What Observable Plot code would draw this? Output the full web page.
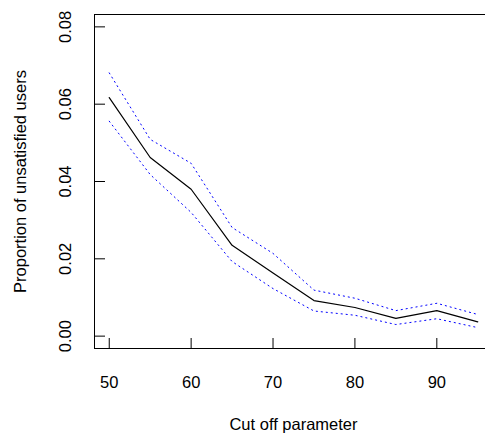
<!DOCTYPE html>
<html>
<head>
<meta charset="utf-8">
<script src="https://cdn.jsdelivr.net/npm/d3@7"></script>
<script src="https://cdn.jsdelivr.net/npm/@observablehq/plot@0.6"></script>
<style>
  html, body { margin: 0; padding: 0; background: white; overflow: hidden; }
  #chart svg { overflow: hidden; }
</style>
</head>
<body>
<div id="chart"></div>
<script>
const cutoff = [50, 55, 60, 65, 70, 75, 80, 85, 90, 95];
const proportion = [0.0617, 0.0462, 0.0380, 0.0235, 0.0163, 0.0092, 0.0074, 0.0046, 0.0066, 0.0037];
const upper = [0.0681, 0.0509, 0.0447, 0.0281, 0.0214, 0.0119, 0.0098, 0.0066, 0.0085, 0.0056];
const lower = [0.0556, 0.0418, 0.0320, 0.0193, 0.0123, 0.0065, 0.0054, 0.0030, 0.0045, 0.0022];
const xTicks = [50, 60, 70, 80, 90];
const yTicks = [0.00, 0.02, 0.04, 0.06, 0.08];
const xLabel = "Cut off parameter";
const yLabel = "Proportion of unsatisfied users";

const xDomain = [48.2, 96.8];
const yDomain = [-0.0032, 0.0832];

const rows = cutoff.map((c, i) => ({c, p: proportion[i], u: upper[i], l: lower[i]}));
const fmt = d3.format(".2f");
const font = "'Liberation Sans', Arial, Helvetica, sans-serif";
const fs = 16.5;

const chart = Plot.plot({
  width: 485,
  height: 435,
  marginLeft: 94,
  marginRight: -7,
  marginTop: 14,
  marginBottom: 87,
  style: {fontFamily: font, fontSize: fs + "px", background: "white", color: "black"},
  x: {domain: xDomain, axis: null},
  y: {domain: yDomain, axis: null},
  marks: [
    Plot.ruleY([yDomain[1]], {stroke: "black", strokeWidth: 1}),
    Plot.ruleY([yDomain[0]], {stroke: "black", strokeWidth: 1}),
    Plot.ruleX([xDomain[0]], {stroke: "black", strokeWidth: 1}),
    Plot.axisX({ticks: xTicks, tickSize: -10, tickPadding: 37.4, tickFormat: d => String(d), label: null, fontSize: fs}),
    Plot.axisY({ticks: yTicks, tickSize: -11, tickFormat: () => "", label: null}),
    Plot.text(yTicks, {y: d => d, text: d => fmt(d), frameAnchor: "left", dx: -23.3, rotate: -90,
      lineAnchor: "bottom", textAnchor: "middle", fontSize: fs}),
    Plot.text([xLabel], {frameAnchor: "bottom", dy: 81, lineAnchor: "bottom", textAnchor: "middle", fontSize: fs}),
    Plot.text([yLabel], {frameAnchor: "left", dx: -69, rotate: -90, lineAnchor: "bottom", textAnchor: "middle", fontSize: fs}),
    Plot.line(rows, {x: "c", y: "u", stroke: "blue", strokeWidth: 1, strokeDasharray: "1.2,3.8"}),
    Plot.line(rows, {x: "c", y: "l", stroke: "blue", strokeWidth: 1, strokeDasharray: "1.2,3.8"}),
    Plot.line(rows, {x: "c", y: "p", stroke: "black", strokeWidth: 1.2})
  ]
});
document.getElementById("chart").appendChild(chart);
</script>
</body>
</html>
